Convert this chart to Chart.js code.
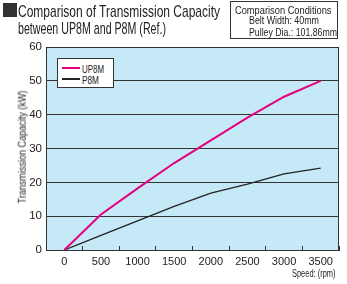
<!DOCTYPE html>
<html>
<head>
<meta charset="utf-8">
<script src="https://cdn.jsdelivr.net/npm/chart.js@4.4.1/dist/chart.umd.min.js"></script>
<style>
  html, body { margin: 0; padding: 0; background: #fff; }
  body { width: 347px; height: 284px; position: relative; overflow: hidden;
         font-family: "Liberation Sans", Arial, sans-serif; color: #222; }
  #grafico { position: absolute; left: 0; top: 0; }
  .txt { position: absolute; white-space: nowrap; line-height: 1; transform-origin: 0 0; }
  .cuadro { position: absolute; left: 3px; top: 3px; width: 14px; height: 14px; background: #333; }
  .caja { position: absolute; left: 230px; top: 1px; width: 106px; height: 36px; border: 1px solid #333; }
  .leyenda { position: absolute; left: 57px; top: 58px; width: 55px; height: 28px; border: 1px solid #333; background: #fff; }
  .linea { position: absolute; left: 62px; width: 18px; height: 2px; }
  #tituloY { position: absolute; left: 22px; top: 147px; white-space: nowrap; line-height: 1; font-size: 10.5px; }
</style>
</head>
<body>
<canvas id="grafico" width="347" height="284"></canvas>
<div class="cuadro"></div>
<div class="txt" style="left:18px;top:3px;font-size:17px" data-w="202">Comparison of Transmission Capacity</div>
<div class="txt" style="left:18px;top:20px;font-size:17px" data-w="148">between UP8M and P8M (Ref.)</div>
<div class="caja"></div>
<div class="txt" style="left:235px;top:5px;font-size:11px" data-w="96.5">Comparison Conditions</div>
<div class="txt" style="left:249px;top:15px;font-size:11px" data-w="70">Belt Width: 40mm</div>
<div class="txt" style="left:249px;top:27px;font-size:11px" data-w="88">Pulley Dia.: 101.86mm</div>
<div class="leyenda"></div>
<div class="linea" style="top:67px;background:#e4007f"></div>
<div class="linea" style="top:78px;background:#222"></div>
<div class="txt" style="left:82px;top:64px;font-size:10.5px" data-w="22">UP8M</div>
<div class="txt" style="left:82px;top:75px;font-size:10.5px" data-w="17">P8M</div>
<div class="txt" style="left:292px;top:268px;font-size:11.5px" data-w="43.5">Speed: (rpm)</div>
<div id="tituloY">Transmission Capacity (kW)</div>
<script>
const velocidades = ['0', '500', '1000', '1500', '2000', '2500', '3000', '3500'];
const capacidadUP8M = [0, 10.5, 18.2, 25.7, 32.4, 39.1, 45.3, 50];
const capacidadP8M = [0, 4.3, 8.6, 12.9, 16.8, 19.5, 22.5, 24.2];

// textos condensados: se ajusta el ancho medido al de la referencia
document.querySelectorAll('.txt[data-w]').forEach(el => {
  const ancho = el.getBoundingClientRect().width;
  el.style.transform = `scaleX(${parseFloat(el.dataset.w) / ancho})`;
});
const ty = document.getElementById('tituloY');
const anchoY = ty.getBoundingClientRect().width;
ty.style.transform = `translate(-50%, -50%) rotate(-90deg) scaleX(${113 / anchoY})`;

const fuenteEje = "'Liberation Sans', Arial, sans-serif";

// fondo celeste y marco del area de trazado
const fondoPlot = {
  id: 'fondoPlot',
  beforeDraw(chart) {
    const { ctx, chartArea: a } = chart;
    ctx.save();
    ctx.fillStyle = '#c5e9f7';
    ctx.fillRect(a.left, a.top, a.right - a.left, a.bottom - a.top);
    ctx.restore();
  },
  afterDraw(chart) {
    const { ctx, chartArea: a } = chart;
    ctx.save();
    ctx.strokeStyle = '#333';
    ctx.lineWidth = 1;
    ctx.strokeRect(a.left + 0.5, a.top + 0.5, a.right - a.left - 1, a.bottom - a.top);
    ctx.restore();
  }
};

new Chart(document.getElementById('grafico'), {
  type: 'line',
  data: {
    labels: velocidades,
    datasets: [{
      label: 'UP8M',
      data: capacidadUP8M,
      borderColor: '#e4007f',
      borderWidth: 2,
      pointRadius: 0,
      tension: 0
    }, {
      label: 'P8M',
      data: capacidadP8M,
      borderColor: '#222',
      borderWidth: 1.3,
      pointRadius: 0,
      tension: 0
    }]
  },
  options: {
    responsive: false,
    animation: false,
    layout: { padding: { top: 47, right: 8, left: 0, bottom: 0 } },
    plugins: { legend: { display: false }, tooltip: { enabled: false } },
    scales: {
      x: {
        type: 'category',
        offset: true,
        afterFit(scale) { scale.height = 34; },
        grid: { offset: true, drawOnChartArea: false, tickLength: -4, color: '#333' },
        border: { color: '#333' },
        ticks: { padding: 9, color: '#222', font: { family: fuenteEje, size: 11 }, maxRotation: 0 }
      },
      y: {
        min: 0,
        max: 60,
        afterFit(scale) { scale.width = 46; },
        grid: { color: '#333', drawTicks: false },
        border: { color: '#333' },
        ticks: { stepSize: 10, padding: 4, color: '#222', font: { family: fuenteEje, size: 11.5 } }
      }
    }
  },
  plugins: [fondoPlot]
});
</script>
</body>
</html>
